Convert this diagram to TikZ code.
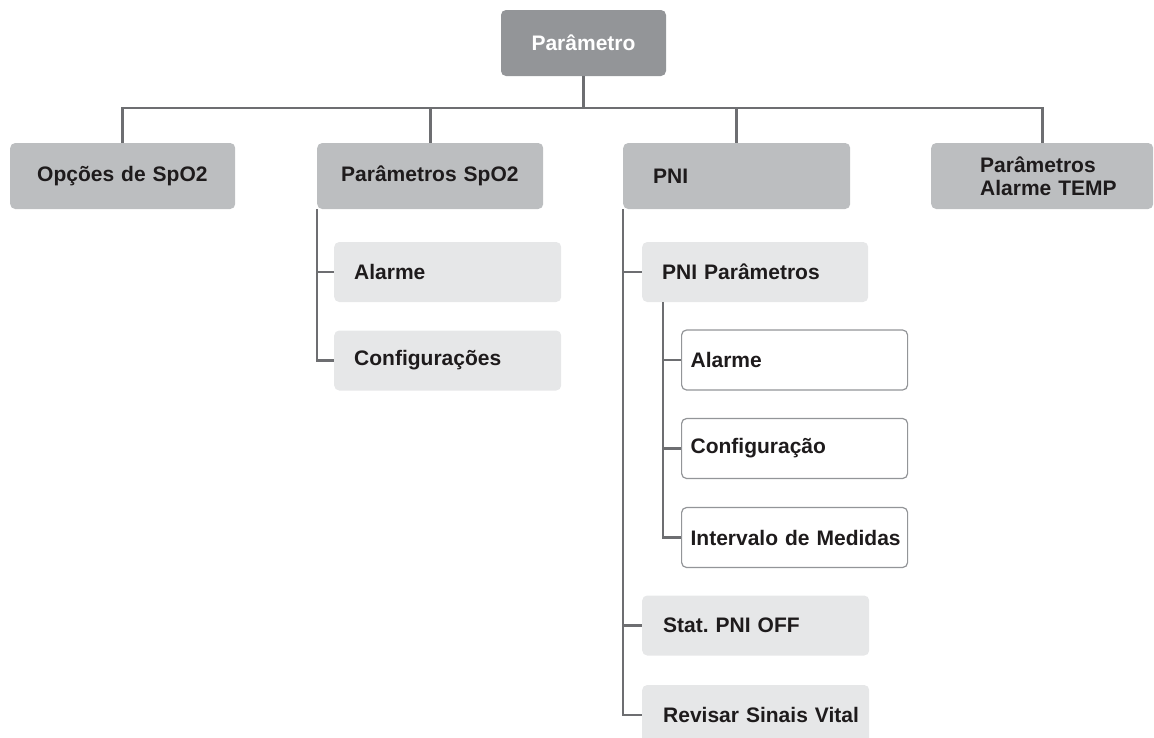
\documentclass[tikz,border=0pt]{standalone}
\usepackage{fontspec}
\setmainfont{Liberation Sans}
\usepackage{tikz}
\usetikzlibrary{
positioning,
calc
}
\usepackage{xcolor}
\definecolor{topgray}{HTML}{939598}
\definecolor{midgray}{HTML}{BCBEC0}
\definecolor{lowgray}{HTML}{E6E7E8}
\definecolor{linegray}{HTML}{6D6E71}
\definecolor{inkgray}{HTML}{1E1B1C}
\frenchspacing

\begin{document}
\begin{tikzpicture}[x=1pt,y=-1pt,
    every node/.style={font=\bfseries\fontsize{21}{23}\selectfont,text=inkgray},
    rootbox/.style={fill=topgray,rounded corners=5pt,minimum width=165pt,minimum height=66pt,inner sep=0pt,text=white},
    headbox/.style={fill=midgray,rounded corners=5pt,minimum height=66pt,anchor=west,align=left,inner ysep=0pt},
    itembox/.style={fill=lowgray,rounded corners=5pt,minimum height=60pt,anchor=west,align=left,inner ysep=0pt},
    leafbox/.style={draw=topgray,line width=1.2pt,fill=white,rounded corners=5pt,minimum height=60pt,anchor=west,align=left,inner ysep=0pt,inner xsep=9pt,text width=208pt},
    conn/.style={draw=linegray,line width=2.7pt}]
  \path[use as bounding box,clip] (0,0) rectangle (1154,737);

  \node[rootbox] (root) at (583.5,43) {Parâmetro};
  \coordinate (bus) at (583.5,108);

  \node[headbox,inner xsep=27pt,text width=171pt] (opc) at (10,176) {Opções de SpO2};
  \node[headbox,inner xsep=24pt,text width=178pt] (pspo) at (317,176) {Parâmetros SpO2};
  \node[headbox,inner xsep=30pt,text width=167pt] (pni) at (623,176) {PNI};
  \node[headbox,inner xsep=49pt,text width=124pt] (temp) at (931,176) {Parâmetros\\\mbox{Alarme TEMP}};

  \node[itembox,inner xsep=20pt,text width=187pt] (spal) at (334,272) {Alarme};
  \node[itembox,inner xsep=20pt,text width=187pt] (spcf) at (334,360.5) {Configurações};

  \node[itembox,inner xsep=20pt,text width=186pt] (pnip) at (642,272) {PNI Parâmetros};
  \node[leafbox] (pnal) at (681,360) {Alarme};
  \node[leafbox] (pncf) at (681,448.5) {Configuração};
  \node[leafbox] (pnim) at (681,537.5) {\mbox{Intervalo de Medidas}};
  \node[itembox,inner xsep=21pt,text width=185pt] (stat) at (642,625.5) {Stat. PNI OFF};
  \node[itembox,inner xsep=21pt,text width=185pt] (rev) at (642,715) {\mbox{Revisar Sinais Vital}};

  \draw[conn] (root.south) -- (bus);
  \draw[conn] (opc.north) |- (bus) -| (temp.north);
  \draw[conn] (pspo.north) -- (pspo.north |- bus);
  \draw[conn] (pni.north) -- (pni.north |- bus);

  \draw[conn] (pspo.south west) |- (spal.west);
  \draw[conn] (pspo.south west) |- (spcf.west);

  \draw[conn] (pni.south west) |- (pnip.west);
  \draw[conn] (pni.south west) |- (stat.west);
  \draw[conn] (pni.south west) |- (rev.west);

  \draw[conn] ([xshift=21pt]pnip.south west) |- (pnal.west);
  \draw[conn] ([xshift=21pt]pnip.south west) |- (pncf.west);
  \draw[conn] ([xshift=21pt]pnip.south west) |- (pnim.west);
\end{tikzpicture}
\end{document}
